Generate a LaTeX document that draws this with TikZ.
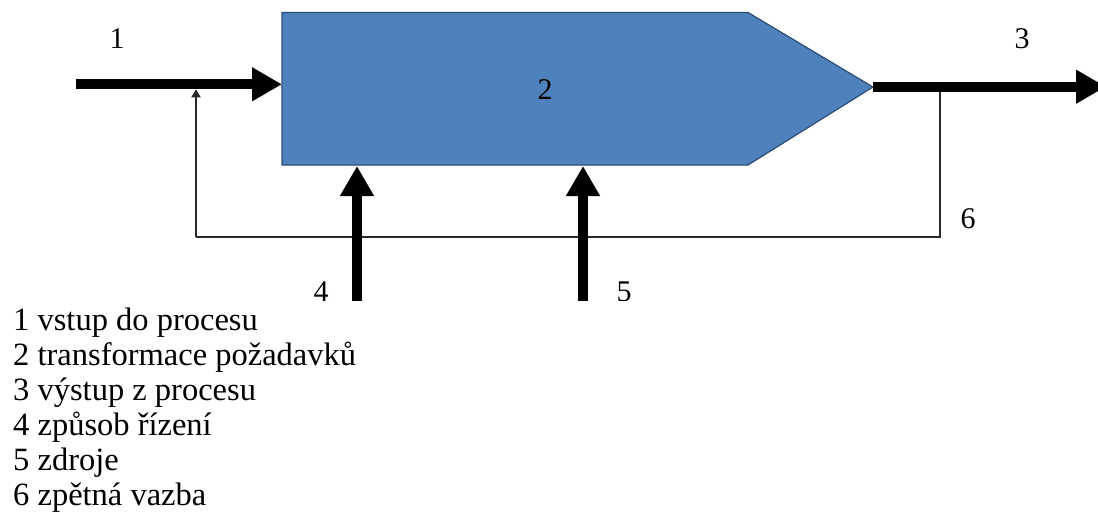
\documentclass[tikz,border=0pt]{standalone}
\usepackage{fontspec}
\setmainfont{Liberation Serif}
\usetikzlibrary{arrows.meta}
\definecolor{procfill}{HTML}{4F81BD}
\definecolor{procedge}{HTML}{2C4D75}
\definecolor{fbline}{HTML}{2A2A2A}
\begin{document}
\begin{tikzpicture}[x=1pt,y=-1pt,
  flow/.style={line width=10pt,
    -{Triangle[length=30pt,width=32pt]}},
  feedback/.style={draw=fbline,line width=1.8pt},
  fbtip/.style={feedback,-{Triangle[length=8pt,width=9pt]}},
  lbl/.style={font=\fontsize{30}{30}\selectfont,anchor=base,inner sep=0pt},
  legend/.style={font=\fontsize{32.5}{35}\selectfont,anchor=base west,inner sep=0pt}]
\useasboundingbox (0,0) rectangle (1098,520);

\begin{scope}
\clip (0,0) rectangle (1098,300);

% process block (arrow-shaped)
\coordinate (pNW) at (282,12.5);
\coordinate (pNE) at (748,12.5);
\coordinate (pTip) at (873,87);
\coordinate (pSE) at (748,165);
\coordinate (pSW) at (282,165);
\draw[fill=procfill,draw=procedge,line width=1.2pt]
  (pNW) -- (pNE) -- (pTip) -- (pSE) -- (pSW) -- cycle;
\node[lbl] (l2) at (545,99) {2};

% input
\coordinate (inStart) at (76,84.3);
\coordinate (inEnd) at (282,84.3);
\draw[flow] (inStart) -- (inEnd);
\node[lbl] (l1) at (117,48) {1};

% output
\coordinate (outStart) at (873,86.7);
\coordinate (outEnd) at (1106,86.7);
\draw[flow] (outStart) -- (outEnd);
\node[lbl] (l3) at (1022,48) {3};

% feedback loop
\coordinate (fbOut) at (940,91.5);
\coordinate (fbC1) at (940,236.7);
\coordinate (fbC2) at (196,236.7);
\coordinate (fbIn) at (196,89.3);
\draw[feedback] (fbOut) -- (fbC1) -- (fbC2);
\draw[fbtip] (fbC2) -- (fbIn);
\node[lbl] (l6) at (968,228) {6};

% control and resources
\coordinate (ctlStart) at (357,302);
\coordinate (ctlEnd) at (357,166);
\coordinate (resStart) at (583,302);
\coordinate (resEnd) at (583,166);
\draw[flow] (ctlStart) -- (ctlEnd);
\draw[flow] (resStart) -- (resEnd);
\node[lbl] (l4) at (321,301) {4};
\node[lbl] (l5) at (624,301) {5};
\end{scope}

% legend, one line per item
\foreach \txt [count=\i] in {1 vstup do procesu,
    2 transformace  požadavků,
    3 výstup z procesu,
    4 způsob řízení,
    5 zdroje,
    6 zpětná vazba}
  \node[legend] (key\i) at (13,{330+35*(\i-1)}) {\txt};
\end{tikzpicture}
\end{document}
